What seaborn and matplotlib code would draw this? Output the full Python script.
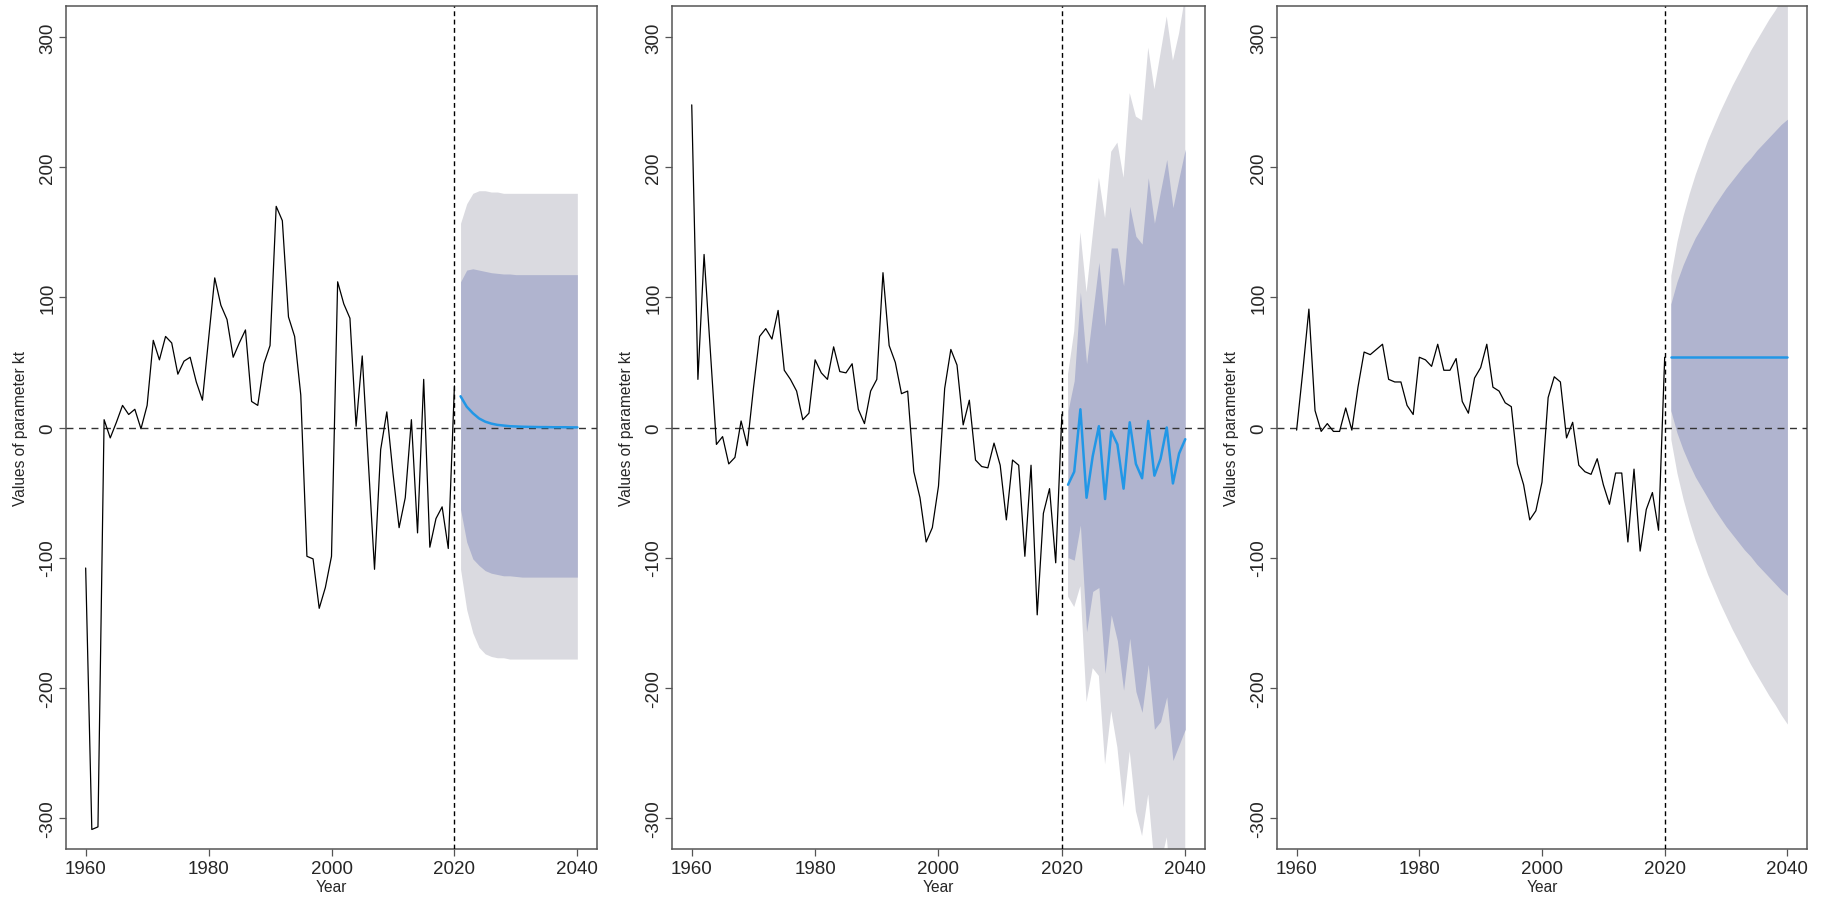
import numpy as np
import pandas as pd
import matplotlib
matplotlib.use("Agg")
import matplotlib.pyplot as plt
import seaborn as sns

sns.set_style("ticks")
plt.rcParams['font.family'] = ['Liberation Sans', 'DejaVu Sans']

# ---------------- data ----------------
years_hist = list(range(1960, 2021))
years_fc = list(range(2021, 2041))

kt_1 = [-108, -309, -307, 6, -8, 4, 17, 10, 14, -1,
        17, 67, 52, 70, 65, 41, 51, 54, 35, 21,
        68, 115, 94, 83, 54, 65, 75, 20, 17, 49,
        63, 170, 159, 85, 70, 25, -99, -101, -139, -123,
        -99, 112, 95, 84, 1, 55, -27, -109, -17, 12,
        -35, -77, -54, 6, -81, 37, -92, -70, -61, -93,
        32]
mean_1 = [24, 16, 11, 7, 4.5, 3, 2, 1.5, 1, 0.8, 0.6, 0.5, 0.4, 0.3, 0.3, 0.2, 0.2, 0.2, 0.1, 0.1]
hi80_1 = [112, 121, 122, 121, 120, 119, 118.5, 118, 118, 117.5, 117.5, 117.5, 117.5, 117.5, 117.5, 117.5, 117.5, 117.5, 117.5, 117.5]
lo80_1 = [-63, -88, -101, -106, -110, -112, -113, -114, -114, -114.5, -115, -115, -115, -115, -115, -115, -115, -115, -115, -115]
hi95_1 = [157, 172, 180, 182, 182, 181, 181, 180, 180, 180, 180, 180, 180, 180, 180, 180, 180, 180, 180, 180]
lo95_1 = [-109, -140, -158, -169, -174, -176, -177, -177, -178, -178, -178, -178, -178, -178, -178, -178, -178, -178, -178, -178]

kt_2 = [248, 37, 133, 60, -13, -7, -28, -23, 5, -14,
        30, 70, 76, 68, 90, 44, 37, 28, 6, 11,
        52, 42, 37, 62, 43, 42, 49, 14, 3, 28,
        37, 119, 63, 50, 26, 28, -34, -54, -88, -77,
        -45, 30, 60, 48, 2, 21, -25, -30, -31, -12,
        -29, -71, -25, -29, -99, -29, -144, -66, -47, -104,
        10]
mean_2 = [-44, -34, 14, -54, -22, 1, -55, -3, -13, -47, 4, -28, -39, 5, -37, -24, 0, -43, -20, -9]
hi80_2 = [13, 36, 104, 49, 88, 127, 78, 138, 138, 109, 170, 147, 141, 192, 157, 182, 206, 169, 192, 214]
lo80_2 = [-100, -102, -75, -157, -126, -123, -189, -144, -164, -202, -162, -203, -219, -182, -232, -226, -207, -256, -244, -232]
hi95_2 = [41, 74, 150, 104, 148, 192, 161, 212, 219, 192, 257, 239, 236, 292, 260, 288, 316, 282, 303, 332]
lo95_2 = [-130, -138, -122, -211, -185, -191, -259, -218, -246, -292, -249, -295, -314, -282, -335, -336, -315, -368, -343, -350]

kt_3 = [-2, 43, 91, 13, -3, 3, -3, -3, 15, -2,
        31, 58, 56, 60, 64, 37, 35, 35, 17, 10,
        54, 52, 47, 64, 44, 44, 53, 20, 11, 38,
        46, 64, 31, 28, 19, 16, -28, -44, -71, -64,
        -42, 23, 39, 35, -8, 4, -29, -34, -36, -24,
        -44, -59, -35, -35, -88, -32, -95, -63, -50, -79,
        54]
mean_3 = [54] * 20
hi80_3 = [95, 112, 125, 136, 146, 154, 162, 170, 177, 184, 190, 196, 202, 207, 213, 218, 223, 228, 233, 237]
lo80_3 = [13, -4, -17, -28, -38, -46, -54, -62, -69, -76, -82, -88, -94, -99, -105, -110, -115, -120, -125, -129]
hi95_3 = [117, 143, 163, 180, 195, 208, 221, 232, 243, 253, 263, 272, 281, 290, 298, 306, 314, 321, 329, 336]
lo95_3 = [-9, -35, -55, -72, -87, -100, -113, -124, -135, -145, -155, -164, -173, -182, -190, -198, -206, -213, -221, -228]

x_ticks = [1960, 1980, 2000, 2020, 2040]
y_ticks = [-300, -200, -100, 0, 100, 200, 300]
x_label = "Year"
y_label = "Values of parameter kt"

panels = [
    (kt_1, mean_1, lo80_1, hi80_1, lo95_1, hi95_1),
    (kt_2, mean_2, lo80_2, hi80_2, lo95_2, hi95_2),
    (kt_3, mean_3, lo80_3, hi80_3, lo95_3, hi95_3),
]

# ---------------- figure ----------------
W, H = 1828, 904
fig = plt.figure(figsize=(W / 100, H / 100), dpi=100)
boxes = [(66, 597), (672, 1205), (1277, 1807)]
top_px, bot_px = 7, 850

outer_col = "#DADAE0"
inner_col = "#B0B4CF"
fc_col = "#2297E6"
frame_col = "#555555"

for (l, r), (kt, mean, lo80, hi80, lo95, hi95) in zip(boxes, panels):
    ax = fig.add_axes([l / W, 1 - bot_px / H, (r - l) / W, (bot_px - top_px) / H])
    hist = pd.DataFrame({"Year": years_hist, "kt": kt})
    fc = pd.DataFrame({"Year": years_fc, "mean": mean, "lo80": lo80, "hi80": hi80,
                       "lo95": lo95, "hi95": hi95})
    ax.fill_between(fc["Year"], fc["lo95"], fc["hi95"], color=outer_col, lw=0, zorder=1)
    ax.fill_between(fc["Year"], fc["lo80"], fc["hi80"], color=inner_col, lw=0, zorder=2)
    sns.lineplot(data=hist, x="Year", y="kt", ax=ax, color="black", lw=0.9, zorder=4)
    sns.lineplot(data=fc, x="Year", y="mean", ax=ax, color=fc_col, lw=1.8, zorder=5)
    ax.axhline(0, color="#333333", lw=1.0, ls=(0, (5, 4)), zorder=3)
    ax.axvline(2020, color="black", lw=1.0, ls=(0, (3.5, 2.5)), zorder=3)

    ax.set_xlim(1956.8, 2043.2)
    ax.set_ylim(-324, 324)
    ax.set_xticks(x_ticks)
    ax.set_yticks(y_ticks)
    ax.set_xticklabels([str(t) for t in x_ticks], fontsize=13.5)
    ax.set_yticklabels([str(t) for t in y_ticks], fontsize=13.5, rotation=90, va="center")
    ax.tick_params(axis="both", length=5, width=0.9, color=frame_col, direction="out")
    ax.tick_params(axis="x", pad=3)
    ax.tick_params(axis="y", pad=2)
    for s in ax.spines.values():
        s.set_visible(True)
        s.set_color(frame_col)
        s.set_linewidth(1.1)
    ax.set_xlabel(x_label, fontsize=11.2)
    ax.set_ylabel(y_label, fontsize=11.2)
    ax.xaxis.set_label_coords(0.5, -0.036)
    ax.yaxis.set_label_coords(-0.071, 0.5)
    ax.grid(False)

fig.savefig("out.png", dpi=100)
